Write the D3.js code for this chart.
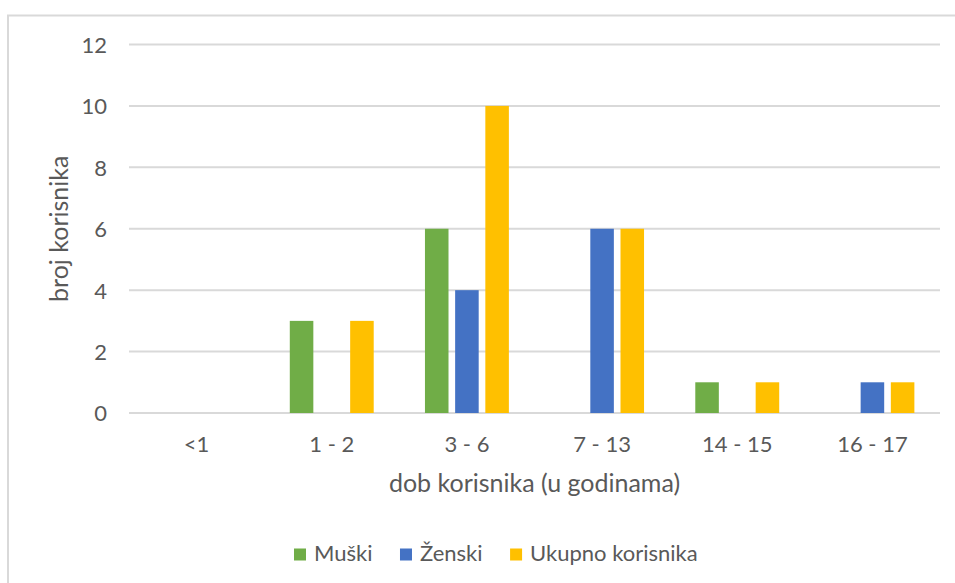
<!DOCTYPE html>
<html>
<head>
<meta charset="utf-8">
<script src="https://cdn.jsdelivr.net/npm/d3@7"></script>
<style>
  html, body { margin: 0; padding: 0; background: #ffffff; }
  svg { display: block; }
  text { font-family: Lato, "Open Sans", sans-serif; fill: #595959; }
</style>
</head>
<body>
<svg id="chart" width="955" height="583"></svg>
<script>
const categories = ["<1", "1 - 2", "3 - 6", "7 - 13", "14 - 15", "16 - 17"];
const seriesNames = ["Muški", "Ženski", "Ukupno korisnika"];
const muski = [0, 3, 6, 0, 1, 0];
const zenski = [0, 0, 4, 6, 0, 1];
const ukupno = [0, 3, 10, 6, 1, 1];
const seriesColors = ["#70ad47", "#4472c4", "#ffc000"];
const yTicks = [0, 2, 4, 6, 8, 10, 12];
const xTitle = "dob korisnika (u godinama)";
const yTitle = "broj korisnika";

const seriesValues = [muski, zenski, ukupno];
const rows = categories.map((c, i) => ({
  cat: c,
  vals: seriesNames.map((s, j) => ({ key: s, value: seriesValues[j][i], color: seriesColors[j] }))
}));

const svg = d3.select("#chart");
const plot = { left: 129, right: 940, top: 44.5, bottom: 413 };

// chart frame (extends past right and bottom of the picture)
svg.append("rect")
  .attr("x", 8).attr("y", 15.5)
  .attr("width", 1100).attr("height", 1000)
  .attr("fill", "none").attr("stroke", "#d9d9d9").attr("stroke-width", 2);

const y = d3.scaleLinear().domain([0, 12]).range([plot.bottom, plot.top]);
const x0 = d3.scaleBand().domain(categories).range([plot.left, plot.right])
  .paddingInner(0.33).paddingOuter(0.165);
const x1 = d3.scaleBand().domain(seriesNames).range([0, x0.bandwidth()])
  .paddingInner(0.22).paddingOuter(0.11);

// gridlines
svg.append("g").selectAll("line").data(yTicks).join("line")
  .attr("x1", plot.left).attr("x2", plot.right)
  .attr("y1", d => y(d)).attr("y2", d => y(d))
  .attr("stroke", "#d9d9d9").attr("stroke-width", 2);

// y axis labels
const yAxis = d3.axisLeft(y).tickValues(yTicks).tickSize(0).tickPadding(0);
const gy = svg.append("g").attr("transform", `translate(107,0)`).call(yAxis);
gy.select(".domain").remove();
gy.selectAll("text").attr("font-size", 22).attr("font-family", "Lato").attr("fill", "#595959").attr("dy", "0.36em");

// bars
const groups = svg.append("g").selectAll("g").data(rows).join("g")
  .attr("transform", d => `translate(${x0(d.cat)},0)`);
groups.selectAll("rect").data(d => d.vals.filter(v => v.value > 0)).join("rect")
  .attr("x", d => x1(d.key))
  .attr("width", x1.bandwidth())
  .attr("y", d => y(d.value))
  .attr("height", d => y(0) - y(d.value))
  .attr("fill", d => d.color);

// x axis labels
const xAxis = d3.axisBottom(x0).tickSize(0).tickPadding(0);
const gx = svg.append("g").attr("transform", `translate(0,452)`).call(xAxis);
gx.select(".domain").remove();
gx.selectAll("text").attr("font-size", 22).attr("font-family", "Lato").attr("fill", "#595959").attr("dy", 0);

// axis titles
svg.append("text")
  .attr("x", (plot.left + plot.right) / 2).attr("y", 492)
  .attr("text-anchor", "middle").attr("font-size", 25)
  .text(xTitle);
svg.append("text")
  .attr("transform", `translate(68,${(plot.top + plot.bottom) / 2}) rotate(-90)`)
  .attr("text-anchor", "middle").attr("font-size", 25)
  .text(yTitle);

// legend
const legend = svg.append("g");
let lx = 294;
seriesNames.forEach((name, i) => {
  legend.append("rect").attr("x", lx).attr("y", 548.5).attr("width", 12).attr("height", 12)
    .attr("fill", seriesColors[i]);
  const t = legend.append("text").attr("x", lx + 20).attr("y", 561)
    .attr("font-size", 22).text(name);
  lx += 20 + t.node().getComputedTextLength() + 27.5;
});
</script>
</body>
</html>
